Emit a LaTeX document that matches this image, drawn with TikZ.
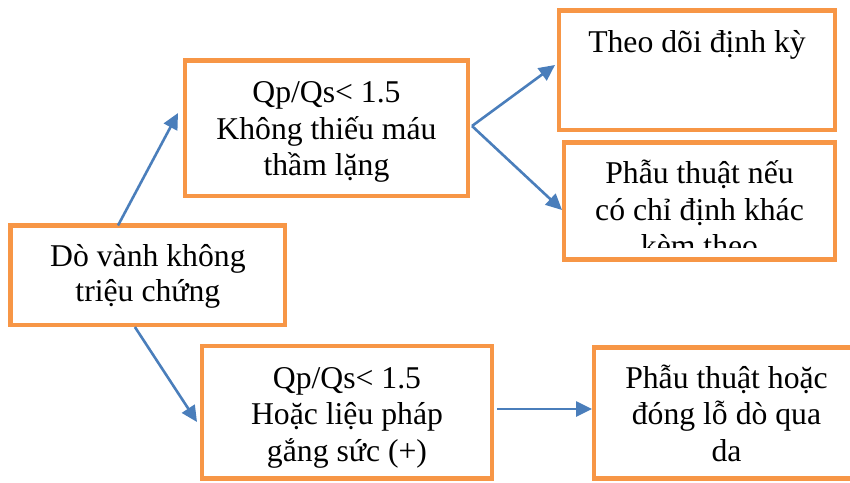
\documentclass[tikz,border=0pt]{standalone}
\usepackage{fontspec}
\setmainfont{Liberation Serif}
\usetikzlibrary{arrows.meta}
\definecolor{boxorange}{HTML}{F79646}
\definecolor{arrowblue}{HTML}{4A7EBB}
% fixed-height strut so that a text block's top edge sits 30pt above its first baseline
\newcommand\firstline{\rule{0pt}{30pt}}
\begin{document}
\begin{tikzpicture}[x=1pt,y=1pt,
  box/.style={draw=boxorange, line width=4.8pt, fill=white, inner sep=0pt, outer sep=0pt},
  txt/.style={anchor=north, inner sep=0pt, outer sep=0pt, align=center,
              font=\fontsize{31.7}{36.5}\selectfont},
  link/.style={draw=arrowblue, line width=2.6pt, -{Triangle[length=16pt,width=15pt]}}]
\useasboundingbox (0,0) rectangle (850,482);

% boxes
\node[box, minimum width=274.2pt, minimum height=99.5pt]  (start) at (147.9,206.75) {};
\node[box, minimum width=283pt,   minimum height=135.5pt] (low)   at (326.5,353.75) {};
\node[box, minimum width=276pt,   minimum height=119.5pt] (watch) at (697,411.75) {};
\node[box, minimum width=271pt,   minimum height=117pt]   (surg)  at (699.5,281) {};
\node[box, minimum width=290pt,   minimum height=132.5pt] (high)  at (347,69.75) {};
\node[box, minimum width=265pt,   minimum height=131pt]   (close) at (726.5,69) {};

% texts
\node[txt, font=\fontsize{31.7}{34}\selectfont] (startT) at (147.9,245)
  {\firstline Dò vành không\\triệu chứng};
\node[txt] (lowT) at (326.5,409) {\firstline Qp/Qs< 1.5\\Không thiếu máu\\thầm lặng};
\node[txt] (watchT) at (697,459) {\firstline Theo dõi định kỳ};
\begin{scope}
  \clip (566.5,234) rectangle (832.5,337);
  \node[txt] (surgT) at (699.5,328) {\firstline Phẫu thuật nếu\\có chỉ định khác\\kèm theo};
\end{scope}
\node[txt, font=\fontsize{31.7}{36.8}\selectfont] (highT) at (347,124)
  {\firstline Qp/Qs< 1.5\\Hoặc liệu pháp\\gắng sức (+)};
\node[txt, font=\fontsize{31.7}{36.8}\selectfont] (closeT) at (726.5,124)
  {\firstline Phẫu thuật hoặc\\đóng lỗ dò qua\\da};

% connectors
\draw[link] ([xshift=-29.9pt]start.north) -- ([xshift=-7pt,yshift=15.25pt]low.west);
\draw[link] ([xshift=-13pt,yshift=-2pt]start.south) -- ([xshift=-5pt,yshift=-9.75pt]high.west);
\draw[link] ([xshift=4pt,yshift=2.25pt]low.east) -- ([xshift=-4pt,yshift=5.25pt]watch.west);
\draw[link] ([xshift=4pt,yshift=2.25pt]low.east) -- ([xshift=-2pt,yshift=-9pt]surg.west);
\draw[link] ([xshift=5pt,yshift=3.25pt]high.east) -- ([xshift=-2pt,yshift=4pt]close.west);
\end{tikzpicture}
\end{document}
